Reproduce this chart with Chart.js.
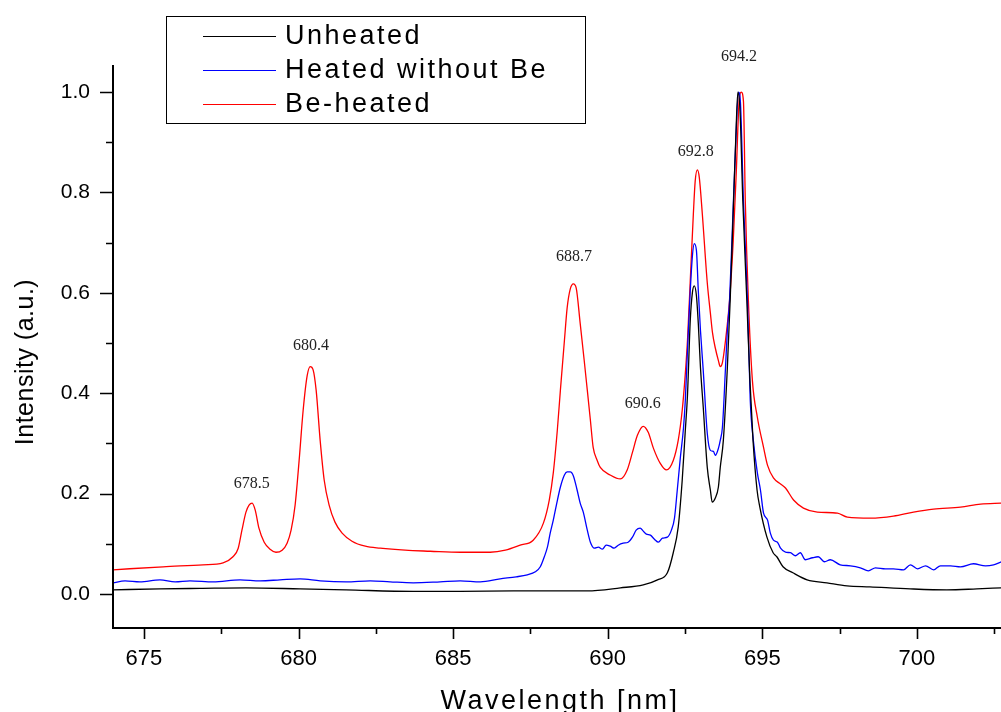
<!DOCTYPE html>
<html lang="en">
<head>
<meta charset="UTF-8" />
<title>Emission spectra</title>
<script src="https://cdn.jsdelivr.net/npm/chart.js"></script>
<style>
  body { margin: 0; background: #fff; }
  #wrap { width: 1001px; height: 712px; }
</style>
</head>
<body>
<div id="wrap"><canvas id="chart" width="1001" height="712"></canvas></div>
<script>
  // values (wavelength in nm, normalised intensity)
  const seriesNames = ["Unheated", "Heated without Be", "Be-heated"];
  const seriesColors = ["#000000", "#0000ff", "#ff0000"];

  const unheatedX = [674.00, 675.52, 676.82, 678.30, 680.05, 681.54, 683.71, 685.23, 686.95, 688.14,
    689.34, 690.41, 691.15, 691.61, 691.93, 692.12, 692.28, 692.41, 692.51, 692.58,
    692.67, 692.74, 692.80, 692.87, 692.93, 693.00, 693.09, 693.22, 693.32, 693.38,
    693.48, 693.58, 693.64, 693.74, 693.87, 693.96, 694.05, 694.15, 694.21, 694.28,
    694.37, 694.50, 694.60, 694.70, 694.83, 694.92, 695.15, 695.35, 695.47, 695.67,
    695.99, 696.45, 697.09, 697.74, 698.48, 699.78, 700.97, 701.94, 702.72];
  const unheatedY = [0.008, 0.010, 0.011, 0.012, 0.010, 0.008, 0.005, 0.005, 0.006, 0.006,
    0.006, 0.012, 0.018, 0.028, 0.042, 0.082, 0.133, 0.227, 0.326, 0.396,
    0.545, 0.601, 0.614, 0.594, 0.539, 0.451, 0.372, 0.252, 0.207, 0.183,
    0.191, 0.213, 0.252, 0.306, 0.451, 0.584, 0.744, 0.922, 1.000, 0.962,
    0.783, 0.584, 0.425, 0.306, 0.207, 0.173, 0.113, 0.082, 0.074, 0.054,
    0.042, 0.028, 0.022, 0.016, 0.014, 0.010, 0.008, 0.010, 0.012];

  const heatedX = [674.00, 674.39, 674.87, 675.52, 676.01, 676.49, 677.24, 678.11, 678.76, 679.40,
    680.05, 680.70, 681.54, 682.32, 682.96, 683.71, 684.58, 685.23, 685.88, 686.52,
    687.04, 687.40, 687.66, 687.82, 687.95, 688.05, 688.14, 688.24, 688.34, 688.47,
    688.60, 688.69, 688.79, 688.89, 689.01, 689.11, 689.21, 689.34, 689.44, 689.57,
    689.70, 689.83, 689.95, 690.08, 690.21, 690.34, 690.50, 690.66, 690.80, 690.92,
    691.05, 691.15, 691.25, 691.38, 691.51, 691.64, 691.77, 691.93, 692.06, 692.16,
    692.25, 692.35, 692.45, 692.51, 692.58, 692.67, 692.74, 692.80, 692.87, 692.93,
    693.00, 693.09, 693.22, 693.32, 693.42, 693.48, 693.58, 693.64, 693.71, 693.81,
    693.87, 693.94, 694.03, 694.13, 694.23, 694.29, 694.39, 694.52, 694.61, 694.71,
    694.84, 694.94, 695.04, 695.17, 695.26, 695.36, 695.49, 695.59, 695.75, 695.91,
    696.07, 696.23, 696.39, 696.62, 696.81, 697.01, 697.20, 697.52, 697.85, 698.17,
    698.43, 698.66, 698.98, 699.24, 699.57, 699.79, 700.02, 700.28, 700.54, 700.76,
    701.09, 701.41, 701.83, 702.22, 702.48, 702.74];
  const heatedY = [0.022, 0.026, 0.024, 0.028, 0.024, 0.026, 0.024, 0.028, 0.026, 0.028,
    0.030, 0.026, 0.024, 0.026, 0.024, 0.022, 0.024, 0.026, 0.024, 0.030,
    0.034, 0.038, 0.044, 0.054, 0.074, 0.093, 0.121, 0.147, 0.177, 0.213,
    0.237, 0.243, 0.243, 0.235, 0.207, 0.181, 0.163, 0.127, 0.103, 0.091,
    0.093, 0.089, 0.097, 0.095, 0.091, 0.097, 0.101, 0.103, 0.113, 0.127,
    0.131, 0.125, 0.119, 0.117, 0.109, 0.103, 0.111, 0.113, 0.127, 0.151,
    0.207, 0.272, 0.330, 0.386, 0.485, 0.604, 0.674, 0.698, 0.684, 0.604,
    0.525, 0.445, 0.320, 0.286, 0.284, 0.276, 0.290, 0.306, 0.332, 0.451,
    0.525, 0.584, 0.724, 0.883, 1.000, 0.982, 0.783, 0.584, 0.386, 0.306,
    0.241, 0.207, 0.161, 0.147, 0.121, 0.107, 0.103, 0.091, 0.083, 0.082,
    0.076, 0.082, 0.068, 0.072, 0.074, 0.064, 0.068, 0.058, 0.056, 0.052,
    0.046, 0.052, 0.050, 0.050, 0.048, 0.058, 0.050, 0.056, 0.048, 0.056,
    0.056, 0.054, 0.060, 0.056, 0.058, 0.064];

  const beHeatedX = [674.00, 675.62, 676.91, 677.56, 677.88, 678.05, 678.17, 678.30, 678.40, 678.50,
    678.60, 678.72, 678.89, 679.08, 679.27, 679.47, 679.63, 679.76, 679.89, 680.02,
    680.15, 680.28, 680.38, 680.47, 680.57, 680.70, 680.83, 680.99, 681.18, 681.41,
    681.73, 682.16, 682.64, 683.45, 684.26, 685.23, 686.20, 686.69, 687.17, 687.59,
    687.92, 688.11, 688.24, 688.37, 688.47, 688.60, 688.69, 688.79, 688.89, 688.98,
    689.11, 689.24, 689.34, 689.44, 689.53, 689.66, 689.76, 690.08, 690.41, 690.63,
    690.80, 690.96, 691.15, 691.31, 691.48, 691.70, 691.90, 692.12, 692.28, 692.41,
    692.51, 692.58, 692.67, 692.77, 692.83, 692.90, 692.96, 693.06, 693.22, 693.32,
    693.39, 693.48, 693.58, 693.64, 693.71, 693.81, 693.94, 694.06, 694.16, 694.25,
    694.32, 694.39, 694.45, 694.55, 694.68, 694.84, 695.04, 695.17, 695.36, 695.59,
    695.75, 696.01, 696.33, 696.78, 697.43, 697.75, 698.50, 699.24, 699.89, 700.54,
    701.41, 702.06, 702.74];
  const beHeatedY = [0.048, 0.054, 0.058, 0.062, 0.074, 0.091, 0.127, 0.163, 0.177, 0.181,
    0.167, 0.131, 0.103, 0.089, 0.083, 0.087, 0.101, 0.127, 0.177, 0.266,
    0.366, 0.435, 0.453, 0.447, 0.406, 0.306, 0.227, 0.177, 0.143, 0.121,
    0.105, 0.095, 0.091, 0.087, 0.085, 0.083, 0.083, 0.087, 0.097, 0.107,
    0.141, 0.187, 0.241, 0.326, 0.406, 0.505, 0.571, 0.608, 0.618, 0.610,
    0.539, 0.465, 0.406, 0.346, 0.292, 0.266, 0.252, 0.237, 0.229, 0.247,
    0.282, 0.316, 0.334, 0.322, 0.290, 0.260, 0.247, 0.266, 0.306, 0.366,
    0.439, 0.505, 0.624, 0.757, 0.823, 0.845, 0.831, 0.757, 0.620, 0.560,
    0.520, 0.490, 0.465, 0.453, 0.461, 0.505, 0.584, 0.704, 0.843, 0.982,
    1.000, 0.982, 0.783, 0.584, 0.425, 0.352, 0.292, 0.256, 0.231, 0.219,
    0.211, 0.187, 0.171, 0.163, 0.161, 0.153, 0.151, 0.155, 0.163, 0.169,
    0.173, 0.179, 0.181];

  // peak annotations (text, wavelength, intensity where the text sits)
  const peakLabels = ["678.5", "680.4", "688.7", "690.6", "692.8", "694.2"];
  const peakLabelX = [678.49, 680.40, 688.91, 691.13, 692.85, 694.25];
  const peakLabelY = [0.219, 0.495, 0.671, 0.378, 0.881, 1.070];

  const xTitle = "Wavelength [nm]";
  const yTitle = "Intensity (a.u.)";

  const sansFont = 'Arial, "Liberation Sans", sans-serif';
  const serifFont = '"Times New Roman", "Liberation Serif", serif';

  function toPoints(xs, ys) {
    return xs.map((v, i) => ({ x: v, y: ys[i] }));
  }

  const seriesData = [
    toPoints(unheatedX, unheatedY),
    toPoints(heatedX, heatedY),
    toPoints(beHeatedX, beHeatedY)
  ];

  // axes lines, in/out ticks, titles, peak text and the boxed legend
  const decorPlugin = {
    id: 'decor',
    afterDraw(chart) {
      const { ctx, chartArea: a, scales: { x, y } } = chart;
      ctx.save();
      ctx.strokeStyle = '#000';
      ctx.lineWidth = 2;
      ctx.beginPath();
      ctx.moveTo(a.left, a.top);
      ctx.lineTo(a.left, a.bottom + 1);
      ctx.moveTo(a.left - 1, a.bottom);
      ctx.lineTo(a.right, a.bottom);
      ctx.stroke();

      ctx.lineWidth = 1.6;
      ctx.beginPath();
      x.ticks.forEach(t => {
        const px = Math.round(x.getPixelForValue(t.value)) + 0.5;
        const len = t.label ? 11 : 6;
        ctx.moveTo(px, a.bottom);
        ctx.lineTo(px, a.bottom + len);
      });
      y.ticks.forEach(t => {
        const py = Math.round(y.getPixelForValue(t.value)) + 0.5;
        const len = t.label ? 13 : 7;
        ctx.moveTo(a.left, py);
        ctx.lineTo(a.left - len, py);
      });
      ctx.stroke();

      // axis titles
      ctx.fillStyle = '#000';
      ctx.textAlign = 'center';
      ctx.textBaseline = 'alphabetic';
      ctx.font = '27px ' + sansFont;
      ctx.letterSpacing = '2.5px';
      ctx.fillText(xTitle, 560, 709);
      ctx.font = '25px ' + sansFont;
      ctx.letterSpacing = '0.5px';
      ctx.save();
      ctx.translate(33, 362);
      ctx.rotate(-Math.PI / 2);
      ctx.fillText(yTitle, 0, 0);
      ctx.restore();

      // peak labels
      ctx.letterSpacing = '0px';
      ctx.font = '16px ' + serifFont;
      ctx.fillStyle = '#222';
      ctx.textBaseline = 'middle';
      peakLabels.forEach((txt, i) => {
        ctx.fillText(txt, x.getPixelForValue(peakLabelX[i]), y.getPixelForValue(peakLabelY[i]));
      });

      // legend
      ctx.strokeStyle = '#000';
      ctx.lineWidth = 1;
      ctx.strokeRect(166.5, 16.5, 419, 107);
      ctx.font = '27px ' + sansFont;
      ctx.letterSpacing = '2.5px';
      ctx.textAlign = 'left';
      ctx.fillStyle = '#000';
      const rows = [36, 70, 104];
      seriesNames.forEach((name, i) => {
        ctx.strokeStyle = seriesColors[i];
        ctx.lineWidth = 1.2;
        ctx.beginPath();
        ctx.moveTo(203, rows[i] + 0.5);
        ctx.lineTo(276, rows[i] + 0.5);
        ctx.stroke();
        ctx.fillText(name, 285, rows[i] + 1);
      });
      ctx.restore();
    }
  };

  new Chart(document.getElementById('chart'), {
    type: 'line',
    data: {
      datasets: seriesData.map((pts, i) => ({
        label: seriesNames[i],
        data: pts,
        borderColor: seriesColors[i],
        borderWidth: 1.3,
        pointRadius: 0,
        fill: false,
        cubicInterpolationMode: 'monotone'
      }))
    },
    options: {
      responsive: false,
      animation: false,
      events: [],
      layout: { padding: { top: 65, right: 0, left: 0, bottom: 0 } },
      plugins: {
        legend: { display: false },
        tooltip: { enabled: false }
      },
      scales: {
        x: {
          type: 'linear',
          position: 'bottom',
          min: 674,
          max: 702.72,
          afterFit: s => {
            s.height = 84;
            s.paddingLeft = 0;
            s.paddingRight = 0;
          },
          grid: { display: false, drawTicks: false },
          border: { display: false },
          ticks: {
            stepSize: 2.5,
            includeBounds: false,
            autoSkip: false,
            maxRotation: 0,
            padding: 18,
            color: '#000',
            font: { family: sansFont, size: 22 },
            callback: v => (Math.abs(v % 5) < 1e-6 ? String(v) : '')
          }
        },
        y: {
          min: -0.068,
          max: 1.054,
          afterFit: s => {
            s.width = 113;
            s.paddingTop = 0;
            s.paddingBottom = 0;
          },
          grid: { display: false, drawTicks: false },
          border: { display: false },
          ticks: {
            stepSize: 0.1,
            includeBounds: false,
            autoSkip: false,
            padding: 23,
            color: '#000',
            font: { family: sansFont, size: 21 },
            callback: v => {
              const r = Math.round(v * 10);
              return r % 2 === 0 ? (r / 10).toFixed(1) : '';
            }
          }
        }
      }
    },
    plugins: [decorPlugin]
  });
</script>
</body>
</html>
